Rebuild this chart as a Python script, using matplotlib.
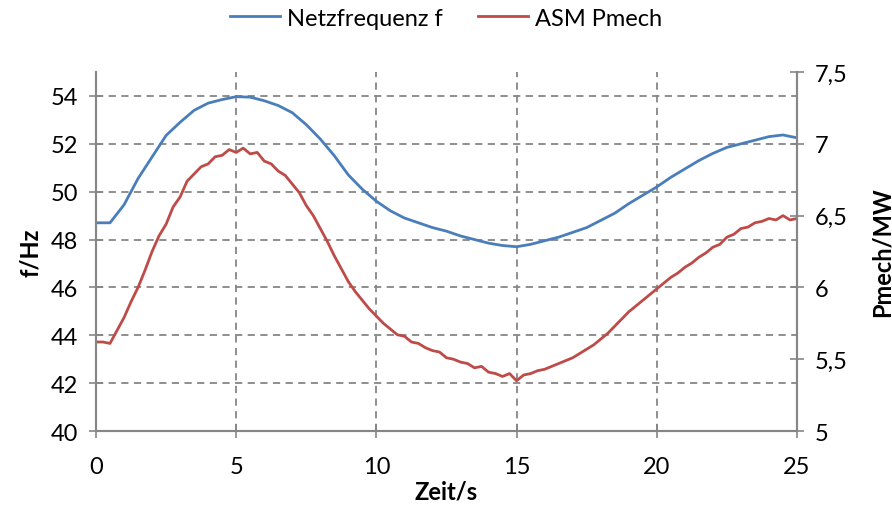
import numpy as np
import matplotlib.pyplot as plt

plt.rcParams['font.family'] = ['Lato', 'DejaVu Sans']

# blue: Netzfrequenz (left axis), sampled every 0.5 s
t_f = np.arange(0, 25.01, 0.5)
f_hz = [48.7, 48.7, 49.45, 50.55, 51.45, 52.35, 52.9, 53.4, 53.7, 53.85,
        53.97, 53.95, 53.8, 53.6, 53.3, 52.8, 52.2, 51.5, 50.7, 50.1,
        49.6, 49.2, 48.9, 48.7, 48.5, 48.35, 48.15, 48.0, 47.85, 47.75,
        47.7, 47.8, 47.95, 48.1, 48.3, 48.5, 48.8, 49.1, 49.5, 49.85,
        50.2, 50.6, 50.95, 51.3, 51.6, 51.85, 52.0, 52.15, 52.3, 52.37,
        52.25]

# red: ASM Pmech (right axis), sampled every 0.25 s
t_p = np.arange(0, 25.001, 0.25)
p_mw = [5.62, 5.62, 5.61, 5.70, 5.79, 5.90, 6.00, 6.12, 6.25, 6.36,
        6.44, 6.56, 6.63, 6.74, 6.79, 6.84, 6.86, 6.91, 6.92, 6.96,
        6.94, 6.97, 6.93, 6.94, 6.88, 6.86, 6.81, 6.78, 6.72, 6.66,
        6.57, 6.50, 6.41, 6.32, 6.22, 6.13, 6.04, 5.97, 5.91, 5.85,
        5.80, 5.75, 5.71, 5.67, 5.66, 5.62, 5.61, 5.58, 5.56, 5.55,
        5.51, 5.50, 5.48, 5.47, 5.44, 5.45, 5.41, 5.40, 5.38, 5.40,
        5.35, 5.39, 5.40, 5.42, 5.43, 5.45, 5.47, 5.49, 5.51, 5.54,
        5.57, 5.60, 5.64, 5.68, 5.73, 5.78, 5.83, 5.87, 5.91, 5.95,
        5.99, 6.03, 6.07, 6.10, 6.14, 6.17, 6.21, 6.24, 6.28, 6.30,
        6.35, 6.37, 6.41, 6.42, 6.45, 6.46, 6.48, 6.47, 6.50, 6.47,
        6.48]

x_ticks = [0, 5, 10, 15, 20, 25]
f_ticks = [40, 42, 44, 46, 48, 50, 52, 54]
p_ticks = [5, 5.5, 6, 6.5, 7, 7.5]

blue = '#4a7ebb'
red = '#be4b48'
axc = '#868686'

fig = plt.figure(figsize=(8.92, 5.06), dpi=100)
ax = fig.add_axes([0.1076, 0.1462, 0.7859, 0.7095])
ax2 = ax.twinx()

l1, = ax.plot(t_f, f_hz, color=blue, lw=2, label='Netzfrequenz f')
l2, = ax2.plot(t_p, p_mw, color=red, lw=2, label='ASM Pmech')

ax.set_xlim(0, 25)
ax.set_ylim(40, 55)
ax2.set_ylim(5, 7.5)
ax.set_xticks(x_ticks)
ax.set_yticks(f_ticks)
ax2.set_yticks(p_ticks)
ax2.set_yticklabels([('%g' % v).replace('.', ',') for v in p_ticks])

for a in (ax, ax2):
    for s in a.spines.values():
        s.set_color(axc)
        s.set_linewidth(1.5)
    a.spines['top'].set_visible(False)
    a.tick_params(direction='inout', length=10, width=1.2, color=axc,
                  labelsize=17, pad=8)
ax.tick_params(axis='x', pad=13)

ax.set_axisbelow(True)
ax.grid(True, color=axc, linestyle=(0, (4, 3)), lw=1.3)

ax.set_xlabel('Zeit/s', fontsize=17, fontweight='bold', labelpad=2)
ax.set_ylabel('f/Hz', fontsize=17, fontweight='bold', labelpad=6)
ax2.set_ylabel('Pmech/MW', fontsize=17, fontweight='bold', labelpad=16)

fig.legend(handles=[l1, l2], loc='upper center', bbox_to_anchor=(0.5, 1.025),
           ncol=2, frameon=False, fontsize=17, handlelength=2.1,
           handletextpad=0.3, columnspacing=1.5)

fig.savefig('out.png', dpi=100)
